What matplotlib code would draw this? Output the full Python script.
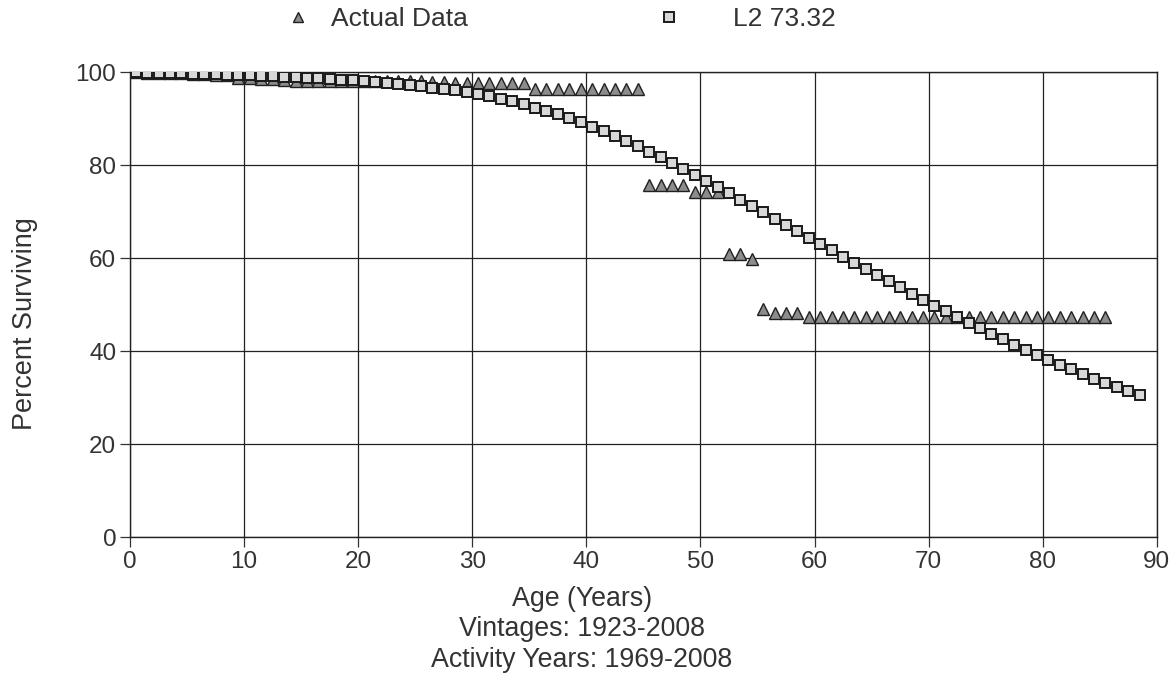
import matplotlib
matplotlib.use("Agg")
import matplotlib.pyplot as plt

plt.rcParams["font.family"] = ["Liberation Sans", "DejaVu Sans"]

# L2 73.32 fitted curve (age, percent surviving)
curve_age = [0] + [a + 0.5 for a in range(89)]
curve_pct = [
    100.0, 100.0, 99.9, 99.9, 99.8, 99.8, 99.7, 99.7, 99.6, 99.5,
    99.4, 99.3, 99.2, 99.1, 99.0, 98.9, 98.8, 98.7, 98.6, 98.4,
    98.3, 98.1, 97.9, 97.7, 97.5, 97.3, 97.0, 96.7, 96.4, 96.1,
    95.7, 95.3, 94.8, 94.3, 93.7, 93.1, 92.4, 91.7, 90.9, 90.1,
    89.2, 88.3, 87.3, 86.3, 85.2, 84.1, 82.9, 81.7, 80.5, 79.2,
    77.9, 76.6, 75.3, 74.0, 72.6, 71.3, 69.9, 68.5, 67.1, 65.8,
    64.4, 63.0, 61.7, 60.3, 59.0, 57.7, 56.3, 55.0, 53.7, 52.4,
    51.1, 49.8, 48.6, 47.3, 46.1, 44.9, 43.7, 42.6, 41.4, 40.3,
    39.2, 38.1, 37.1, 36.1, 35.1, 34.1, 33.2, 32.3, 31.4, 30.5,
]

# actual data (age, percent surviving)
actual_age = [a + 0.5 for a in range(86)]
actual_pct = [
    100.0, 99.9, 99.9, 99.8, 99.8, 99.7, 99.6, 99.5, 99.3, 98.8,
    98.7, 98.6, 98.5, 98.3, 98.2, 98.1, 98.0, 98.0, 98.0, 98.0,
    98.0, 98.0, 98.0, 98.0, 98.0, 98.0, 97.8, 97.8, 97.7, 97.7,
    97.7, 97.7, 97.7, 97.7, 97.7, 96.3, 96.3, 96.3, 96.3, 96.3,
    96.3, 96.3, 96.3, 96.3, 96.3, 75.8, 75.8, 75.8, 75.8, 74.2,
    74.2, 74.2, 61.0, 61.0, 59.8, 49.0, 48.2, 48.2, 48.2, 47.4,
    47.4, 47.4, 47.4, 47.4, 47.4, 47.4, 47.4, 47.4, 47.4, 47.4,
    47.4, 47.4, 47.4, 47.4, 47.4, 47.4, 47.4, 47.4, 47.4, 47.4,
    47.4, 47.4, 47.4, 47.4, 47.4, 47.4,
]

xticks = list(range(0, 91, 10))
yticks = list(range(0, 101, 20))

fig = plt.figure(figsize=(11.72, 6.94), dpi=100)
ax = fig.add_axes([0.111, 0.226, 0.876, 0.670])

h_act, = ax.plot(actual_age, actual_pct, linestyle="none", marker="^", markersize=8,
                 markerfacecolor="#8c8c8c", markeredgecolor="#202020",
                 markeredgewidth=1.0, label="Actual Data", zorder=3)
h_fit, = ax.plot(curve_age, curve_pct, linestyle="none", marker="s", markersize=7.8,
                 markerfacecolor="#d8d8d8", markeredgecolor="#1a1a1a",
                 markeredgewidth=1.4, label="L2 73.32", zorder=4)

ax.set_xlim(0, 90)
ax.set_ylim(0, 100)
ax.set_xticks(xticks)
ax.set_yticks(yticks)
ax.grid(True, color="#222222", linewidth=0.9)
ax.set_axisbelow(True)
for s in ax.spines.values():
    s.set_color("#222222")
    s.set_linewidth(1.0)
ax.tick_params(direction="out", length=7, width=0.9, colors="#333333",
               labelsize=17.5, pad=3)

ax.set_xlabel("Age (Years)\nVintages: 1923-2008\nActivity Years: 1969-2008",
              fontsize=19.3, color="#333333", linespacing=1.22)
ax.xaxis.set_label_coords(0.44, -0.105, transform=ax.transAxes)
ax.xaxis.label.set_va("top")
ax.set_ylabel("Percent Surviving", fontsize=19.5, color="#333333")
ax.yaxis.set_label_coords(-0.09, 0.46)

# two separate legend entries, spaced as in the original
legend_kw = dict(loc="center left", frameon=False, fontsize=19,
                 handlelength=1.0, borderpad=0, borderaxespad=0,
                 labelcolor="#333333")
fig.legend(handles=[h_act], bbox_to_anchor=(0.243, 0.9726),
           handletextpad=0.75, markerscale=0.85, **legend_kw)
fig.legend(handles=[h_fit], bbox_to_anchor=(0.5596, 0.9726),
           handletextpad=1.92, markerscale=0.95, **legend_kw)

fig.savefig("out.png", dpi=100)
